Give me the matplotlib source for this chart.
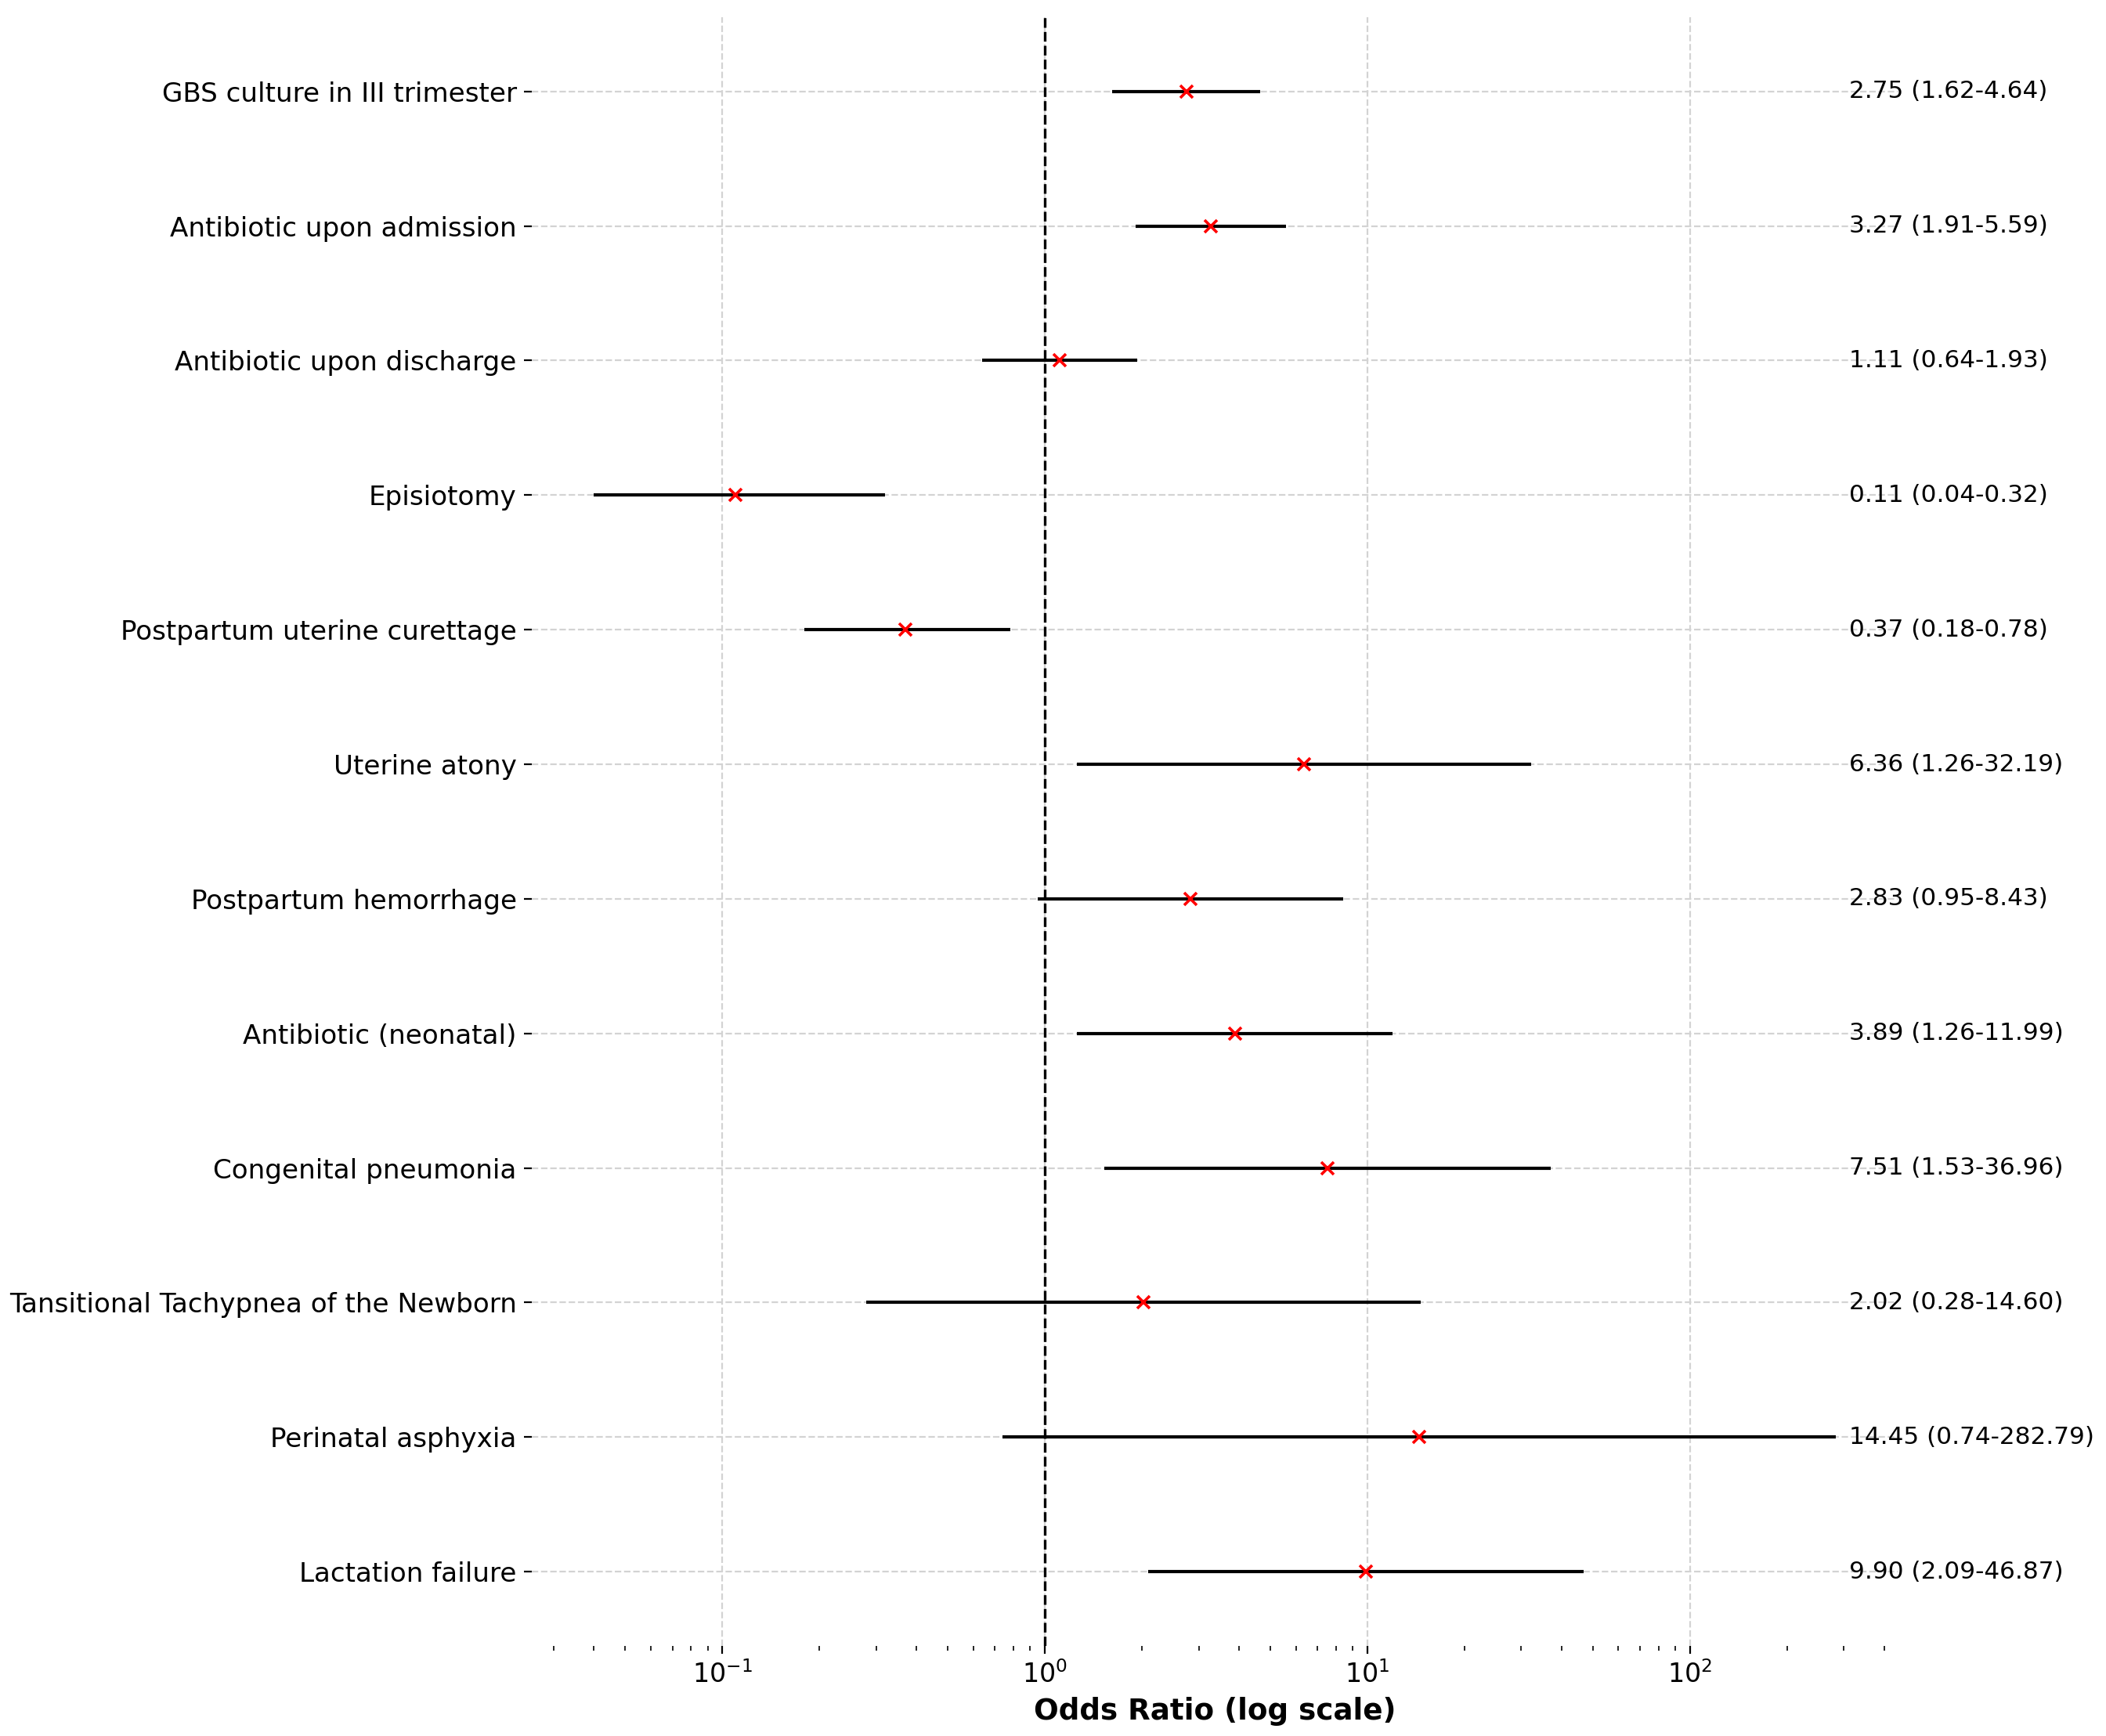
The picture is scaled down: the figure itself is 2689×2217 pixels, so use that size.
import matplotlib
matplotlib.use('Agg')
import matplotlib.pyplot as plt

labels = [
    'GBS culture in III trimester',
    'Antibiotic upon admission',
    'Antibiotic upon discharge',
    'Episiotomy',
    'Postpartum uterine curettage',
    'Uterine atony',
    'Postpartum hemorrhage',
    'Antibiotic (neonatal)',
    'Congenital pneumonia',
    'Tansitional Tachypnea of the Newborn',
    'Perinatal asphyxia',
    'Lactation failure',
]
odds = [2.75, 3.27, 1.11, 0.11, 0.37, 6.36, 2.83, 3.89, 7.51, 2.02, 14.45, 9.90]
lower = [1.62, 1.91, 0.64, 0.04, 0.18, 1.26, 0.95, 1.26, 1.53, 0.28, 0.74, 2.09]
upper = [4.64, 5.59, 1.93, 0.32, 0.78, 32.19, 8.43, 11.99, 36.96, 14.60, 282.79, 46.87]

fig = plt.figure(figsize=(13.445, 11.085), dpi=200)
ax = fig.add_axes([0.2526, 0.052, 0.9010 - 0.2526, 0.990 - 0.052])

y = list(range(len(labels)))
xerr = [[o - l for o, l in zip(odds, lower)], [u - o for o, u in zip(odds, upper)]]
ax.errorbar(odds, y, xerr=xerr, fmt='x', color='red', ecolor='black',
            elinewidth=1.5, capsize=0, markersize=6, markeredgewidth=1.3, zorder=3)
ax.axvline(1, color='black', linestyle='--', linewidth=1.2)
ax.set_xscale('log')
ax.set_yticks(y)
ax.set_yticklabels(labels, fontsize=12.3)
ax.invert_yaxis()

xt = max(upper) * 1.1
for yi, o, l, u in zip(y, odds, lower, upper):
    ax.text(xt, yi, f'{o:.2f} ({l:.2f}-{u:.2f})', va='center', ha='left', fontsize=11.2)

ax.set_xlabel('Odds Ratio (log scale)', fontsize=13.4, fontweight='bold')
ax.tick_params(axis='x', labelsize=12)
ax.grid(True, which='major', linestyle='--', color='lightgray', linewidth=0.8)
for s in ax.spines.values():
    s.set_visible(False)

fig.savefig('out.png', dpi=200)
